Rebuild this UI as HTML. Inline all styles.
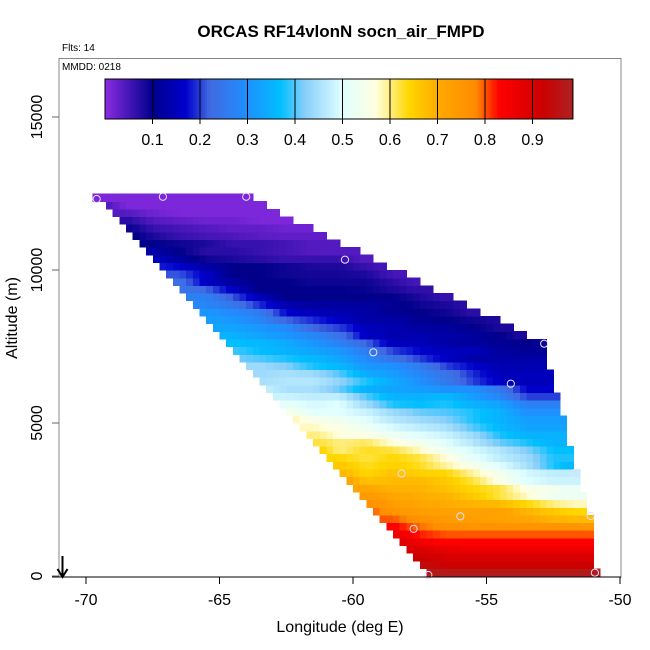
<!DOCTYPE html>
<html><head><meta charset="utf-8"><style>
html,body{margin:0;padding:0;background:#fff;}
svg{display:block;font-family:"Liberation Sans",Arial,sans-serif;}
</style></head><body>
<svg id="chart" width="650" height="650" viewBox="0 0 650 650" xmlns="http://www.w3.org/2000/svg">
<text x="341" y="37" text-anchor="middle" font-size="17" font-weight="bold">ORCAS RF14vlonN socn_air_FMPD</text>
<text x="62" y="51" font-size="10">Flts: 14</text>
<g id="cells"></g>
<g id="pts"></g>
<rect x="59" y="58.5" width="562" height="518.5" fill="none" stroke="#888" stroke-width="1"/>
<text x="62" y="70" font-size="10">MMDD: 0218</text>
<g id="cbar"></g>
<g id="axes"></g>
<text x="340" y="632" text-anchor="middle" font-size="16">Longitude (deg E)</text>
<text transform="translate(17,318) rotate(-90)" text-anchor="middle" font-size="16">Altitude (m)</text>
<g><line x1="62.5" y1="556" x2="62.5" y2="576" stroke="#000" stroke-width="2"/><path d="M57.5,569 L62.5,577 L67.5,569" fill="none" stroke="#000" stroke-width="2"/></g>
</svg>
<script>
const xTicks = [-70,-65,-60,-55,-50];
const yTicks = [0,5000,10000,15000];
const cbarTicks = [0.1,0.2,0.3,0.4,0.5,0.6,0.7,0.8,0.9];
const cellLon = 0.25;
const cellAlt = 250;
const leftLon = [-57.25,-57.5,-57.75,-58,-58.25,-58.5,-58.75,-59,-59.25,-59.5,-59.75,-60,-60.25,-60.5,-60.75,-61,-61.25,-61.5,-61.75,-62,-62.25,-62.5,-62.75,-63,-63.25,-63.5,-63.75,-64,-64.25,-64.5,-64.75,-65,-65.25,-65.5,-65.75,-66,-66.25,-66.5,-66.75,-67,-67.25,-67.5,-67.75,-68,-68.25,-68.5,-68.75,-69,-69.25,-69.75];
const rightLon = [-50.75,-51,-51,-51,-51,-51,-51,-51,-51.25,-51.25,-51.25,-51.5,-51.5,-51.5,-51.75,-51.75,-51.75,-52,-52,-52,-52,-52.25,-52.25,-52.25,-52.5,-52.5,-52.5,-52.75,-52.75,-52.75,-52.75,-53.5,-54,-54.5,-55.25,-55.75,-56.25,-57,-57.5,-58,-58.75,-59.25,-59.75,-60.5,-61,-61.5,-62.25,-62.75,-63.25,-63.75];
const rowValues = [
[0.97,0.97,0.97,0.97,0.97,0.97,0.97,0.97],
[0.94,0.92,0.92,0.92,0.92,0.92,0.92],
[0.92,0.9,0.9,0.9,0.9,0.9,0.9],
[0.9,0.87,0.86,0.86,0.86,0.86,0.86],
[0.89,0.85,0.83,0.83,0.83,0.83,0.83,0.83],
[0.86,0.82,0.8,0.8,0.8,0.8,0.8,0.8],
[0.83,0.79,0.77,0.76,0.76,0.76,0.76,0.75],
[0.8,0.76,0.74,0.73,0.72,0.71,0.69,0.68],
[0.79,0.75,0.73,0.72,0.72,0.72,0.69,0.66,0.64],
[0.77,0.73,0.71,0.7,0.69,0.68,0.64,0.6,0.58],
[0.74,0.71,0.7,0.69,0.66,0.62,0.58,0.53,0.53],
[0.71,0.69,0.69,0.67,0.64,0.62,0.56,0.54,0.52],
[0.71,0.67,0.68,0.68,0.66,0.62,0.56,0.5,0.48,0.48],
[0.68,0.64,0.67,0.65,0.64,0.59,0.54,0.49,0.47,0.47],
[0.66,0.63,0.65,0.63,0.59,0.55,0.5,0.45,0.38,0.36],
[0.64,0.62,0.64,0.62,0.57,0.51,0.47,0.44,0.38,0.38],
[0.64,0.6,0.63,0.62,0.58,0.53,0.49,0.46,0.42,0.37,0.37],
[0.62,0.6,0.61,0.57,0.54,0.5,0.46,0.41,0.38,0.35],
[0.6,0.57,0.56,0.53,0.5,0.48,0.44,0.38,0.35,0.35],
[0.58,0.56,0.53,0.49,0.47,0.45,0.4,0.36,0.33,0.33],
[0.58,0.55,0.53,0.5,0.46,0.44,0.42,0.38,0.35,0.32,0.32],
[0.55,0.51,0.5,0.48,0.44,0.41,0.4,0.38,0.35,0.3,0.3],
[0.51,0.49,0.5,0.44,0.38,0.37,0.38,0.35,0.33,0.27,0.27],
[0.48,0.47,0.47,0.4,0.35,0.35,0.36,0.32,0.28,0.2,0.2],
[0.47,0.45,0.45,0.41,0.35,0.33,0.32,0.3,0.3,0.25,0.17,0.17],
[0.45,0.46,0.46,0.43,0.38,0.34,0.3,0.25,0.2,0.16,0.15,0.15],
[0.44,0.45,0.44,0.4,0.34,0.32,0.28,0.24,0.19,0.15,0.15,0.15],
[0.44,0.42,0.38,0.36,0.31,0.3,0.26,0.2,0.17,0.14,0.14,0.14],
[0.41,0.4,0.38,0.36,0.33,0.29,0.24,0.2,0.16,0.13,0.13,0.13,0.13],
[0.39,0.37,0.35,0.33,0.31,0.26,0.2,0.17,0.15,0.15,0.12,0.11,0.11],
[0.37,0.36,0.34,0.31,0.27,0.22,0.15,0.15,0.13,0.12,0.11,0.1,0.09],
[0.35,0.33,0.31,0.28,0.24,0.16,0.14,0.14,0.13,0.12,0.1,0.08],
[0.33,0.33,0.31,0.29,0.22,0.2,0.15,0.14,0.12,0.12,0.1,0.08],
[0.32,0.31,0.28,0.22,0.19,0.16,0.13,0.13,0.11,0.1,0.09,0.08],
[0.31,0.29,0.26,0.17,0.15,0.14,0.13,0.11,0.1,0.09,0.07],
[0.28,0.25,0.19,0.14,0.12,0.12,0.12,0.11,0.09,0.08,0.07],
[0.27,0.27,0.21,0.15,0.1,0.1,0.1,0.1,0.1,0.08,0.06],
[0.24,0.22,0.16,0.1,0.1,0.1,0.1,0.095,0.08,0.065],
[0.23,0.16,0.12,0.1,0.1,0.09,0.09,0.09,0.07,0.05],
[0.21,0.16,0.1,0.1,0.09,0.085,0.085,0.08,0.05],
[0.18,0.17,0.13,0.1,0.1,0.09,0.08,0.08,0.06,0.05],
[0.15,0.12,0.09,0.08,0.07,0.06,0.06,0.06,0.04],
[0.13,0.1,0.07,0.07,0.06,0.05,0.04,0.04,0.04],
[0.1,0.09,0.08,0.06,0.06,0.05,0.04,0.04],
[0.1,0.08,0.06,0.05,0.045,0.035,0.03,0.03],
[0.09,0.06,0.05,0.04,0.03,0.03,0.02,0.02],
[0.07,0.04,0.03,0.02,0.02,0.01,0.01],
[0.04,0.02,0.01,0.01,0.01,0.01,0.01],
[0.04,0.01,0.01,0.01,0.01,0.01,0.01],
[0.01,0.01,0.01,0.01,0.01,0.01,0.01]
];
const pointLon = [-69.6,-67.12,-64.0,-60.3,-59.24,-52.84,-54.09,-58.18,-51.7,-55.98,-51.1,-57.73,-57.18,-50.94];
const pointAlt = [12320,12395,12395,10337,7310,7592,6284,3350,3366,1951,1961,1542,33,108];

const NS = "http://www.w3.org/2000/svg";
function xS(lon){ return 86 + (lon + 70) * 26.7; }
function yS(alt){ return 576 - alt * 153 / 5000; }
const stops = [[0,"#8a2be2"],[0.1,"#00008b"],[0.17,"#0000cd"],[0.22,"#4169e1"],[0.3,"#1e90ff"],[0.37,"#00bfff"],[0.42,"#87cefa"],[0.5,"#e0ffff"],[0.57,"#ffffe0"],[0.64,"#ffd700"],[0.71,"#ffa500"],[0.78,"#ff8c00"],[0.83,"#ff0000"],[0.92,"#cd0000"],[1,"#a52a2a"]];
function hex(h){ return [parseInt(h.substr(1,2),16),parseInt(h.substr(3,2),16),parseInt(h.substr(5,2),16)]; }
function col(v){
  v = Math.max(0, Math.min(1, v));
  for (let i = 0; i < stops.length - 1; i++) {
    if (v <= stops[i+1][0]) {
      const t = (v - stops[i][0]) / (stops[i+1][0] - stops[i][0]);
      const a = hex(stops[i][1]), b = hex(stops[i+1][1]);
      return "rgb(" + a.map((c,k) => Math.round(c + (b[k]-c)*t)).join(",") + ")";
    }
  }
  return stops[stops.length-1][1];
}
function mk(tag, attrs, parent){
  const e = document.createElementNS(NS, tag);
  for (const k in attrs) e.setAttribute(k, attrs[k]);
  parent.appendChild(e);
  return e;
}
function rowColorAt(r, lonMid){
  const vals = rowValues[r];
  const base = Math.floor(leftLon[r]);
  const centers = vals.map((v, i) => {
    const a = Math.max(base + i, leftLon[r]);
    const b = Math.min(base + i + 1, rightLon[r]);
    return (a + b) / 2;
  });
  if (lonMid <= centers[0]) return vals[0];
  for (let i = 0; i < centers.length - 1; i++) {
    if (lonMid <= centers[i+1]) {
      const t = (lonMid - centers[i]) / (centers[i+1] - centers[i]);
      return vals[i] + (vals[i+1] - vals[i]) * t;
    }
  }
  return vals[vals.length - 1];
}
const cells = document.getElementById("cells");
for (let r = 0; r < rowValues.length; r++) {
  const alt0 = r * cellAlt;
  const n = Math.round((rightLon[r] - leftLon[r]) / cellLon);
  for (let c = 0; c < n; c++) {
    const lon = leftLon[r] + c * cellLon;
    const v = rowColorAt(r, lon + cellLon / 2);
    const x0 = xS(lon), x1 = xS(lon + cellLon);
    const y0 = yS(alt0 + cellAlt), y1 = yS(alt0);
    const el = mk("rect", {x: x0.toFixed(2), y: y0.toFixed(2), width: (x1 - x0 + 0.6).toFixed(2), height: (y1 - y0 + 0.6).toFixed(2), fill: col(v), "shape-rendering": "crispEdges"}, cells);
    
    
  }
}
const pts = document.getElementById("pts");
for (let i = 0; i < pointLon.length; i++) {
  const el = mk("circle", {cx: xS(pointLon[i]), cy: yS(pointAlt[i]), r: 3.6, fill: "none", stroke: "#e8e0ff", "stroke-width": 1}, pts);
  
  
}
const axes = document.getElementById("axes");
const xl = mk("line", {x1: 52, y1: 577, x2: 621, y2: 577, stroke: "#000", "stroke-width": 1}, axes);


for (const t of xTicks) {
  const x = xS(t);
  const tk = mk("line", {x1: x, y1: 577, x2: x, y2: 584, stroke: "#000"}, axes);
  
  
  const tx = mk("text", {x: x, y: 605, "text-anchor": "middle", "font-size": 16}, axes);
  tx.textContent = String(t);
  
  
}
for (const t of yTicks) {
  const y = yS(t);
  const tk = mk("line", {x1: 52, y1: y, x2: 59, y2: y, stroke: "#666"}, axes);
  
  
  const tx = mk("text", {transform: "translate(42," + y + ") rotate(-90)", "text-anchor": "middle", "font-size": 16}, axes);
  tx.textContent = String(t);
  
  
}
const cb = document.getElementById("cbar");
const cbL = 105, cbW = 475, cbMax = 0.985;
for (let i = 0; i < 197; i++) {
  const v0 = i * 0.005;
  const el = mk("rect", {x: (cbL + v0 * cbW).toFixed(2), y: 79, width: (0.005 * cbW + 0.5).toFixed(2), height: 40, fill: col(v0 + 0.0025), "shape-rendering": "crispEdges"}, cb);
  
  
}
const cbo = mk("rect", {x: cbL, y: 79, width: cbMax * cbW, height: 40, fill: "none", stroke: "#000"}, cb);


for (const t of cbarTicks) {
  const x = cbL + t * cbW;
  const tk = mk("line", {x1: x, y1: 79, x2: x, y2: 124, stroke: "#000"}, cb);
  
  
  const tx = mk("text", {x: x, y: 145, "text-anchor": "middle", "font-size": 16}, cb);
  tx.textContent = t.toFixed(1);
  
  
}
</script>
</body></html>
